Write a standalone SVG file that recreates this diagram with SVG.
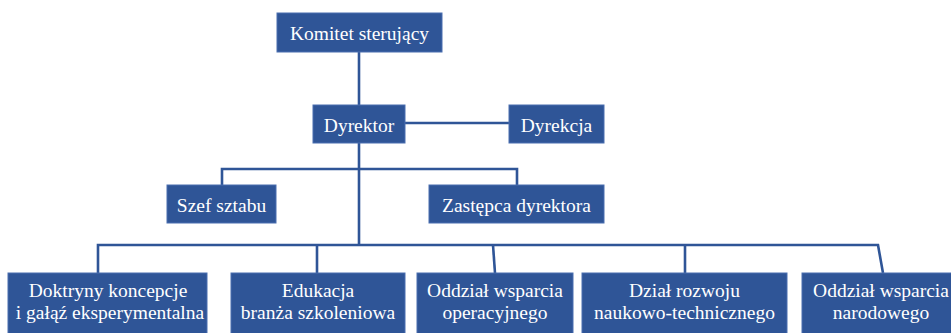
<svg xmlns="http://www.w3.org/2000/svg" width="951" height="333" viewBox="0 0 951 333">
  <style>
    .box { fill: #2F5597; stroke: #4A6FB0; stroke-width: 1; }
    .lbl { fill: #FFFFFF; font-family: 'Liberation Serif', 'Times New Roman', serif; font-size: 19.5px; text-anchor: middle; }
    .wire { fill: none; stroke: #2F5597; stroke-width: 2.6; stroke-linejoin: miter; }
  </style>
  <rect width="951" height="333" fill="#FFFFFF"/>

  <!-- connectors -->
  <g id="connectors">
    <path class="wire" d="M359 52 V105"/>
    <path class="wire" d="M405 123 H509"/>
    <path class="wire" d="M359 143 V245"/>
    <path class="wire" d="M222 185 V169 H517 V185"/>
    <path class="wire" d="M98 273 V245 H878 L883 273"/>
    <path class="wire" d="M317 245 V273"/>
    <path class="wire" d="M493 245 L495 273"/>
    <path class="wire" d="M685 245 V273"/>
  </g>

  <g id="komitet">
    <rect class="box" x="277" y="13" width="165" height="39"/>
    <text class="lbl" x="359.5" y="40">Komitet sterujący</text>
  </g>
  <g id="dyrektor">
    <rect class="box" x="313" y="105" width="92" height="38"/>
    <text class="lbl" x="359" y="132">Dyrektor</text>
  </g>
  <g id="dyrekcja">
    <rect class="box" x="509" y="105" width="95" height="38"/>
    <text class="lbl" x="556.5" y="132">Dyrekcja</text>
  </g>
  <g id="szef-sztabu">
    <rect class="box" x="167" y="185" width="109" height="38"/>
    <text class="lbl" x="221.5" y="212">Szef sztabu</text>
  </g>
  <g id="zastepca">
    <rect class="box" x="429" y="185" width="175" height="38"/>
    <text class="lbl" x="516.5" y="212">Zastępca dyrektora</text>
  </g>

  <g id="doktryny">
    <rect class="box" x="8" y="273" width="199" height="64"/>
    <text class="lbl" x="108" y="297">Doktryny  koncepcje</text>
    <text class="lbl" x="110" y="319">i gałąź eksperymentalna</text>
  </g>
  <g id="edukacja">
    <rect class="box" x="231" y="273" width="174" height="64"/>
    <text class="lbl" x="318" y="297">Edukacja</text>
    <text class="lbl" x="318" y="319">branża szkoleniowa</text>
  </g>
  <g id="wsparcie-operacyjne">
    <rect class="box" x="417" y="273" width="156" height="64"/>
    <text class="lbl" x="495" y="297">Oddział wsparcia</text>
    <text class="lbl" x="495" y="319">operacyjnego</text>
  </g>
  <g id="rozwoj">
    <rect class="box" x="582" y="273" width="205" height="64"/>
    <text class="lbl" x="684.5" y="297">Dział rozwoju</text>
    <text class="lbl" x="684.5" y="319">naukowo-technicznego</text>
  </g>
  <g id="wsparcie-narodowe">
    <rect class="box" x="802" y="273" width="160" height="64"/>
    <text class="lbl" x="881" y="297">Oddział wsparcia</text>
    <text class="lbl" x="881" y="319">narodowego</text>
  </g>
</svg>
